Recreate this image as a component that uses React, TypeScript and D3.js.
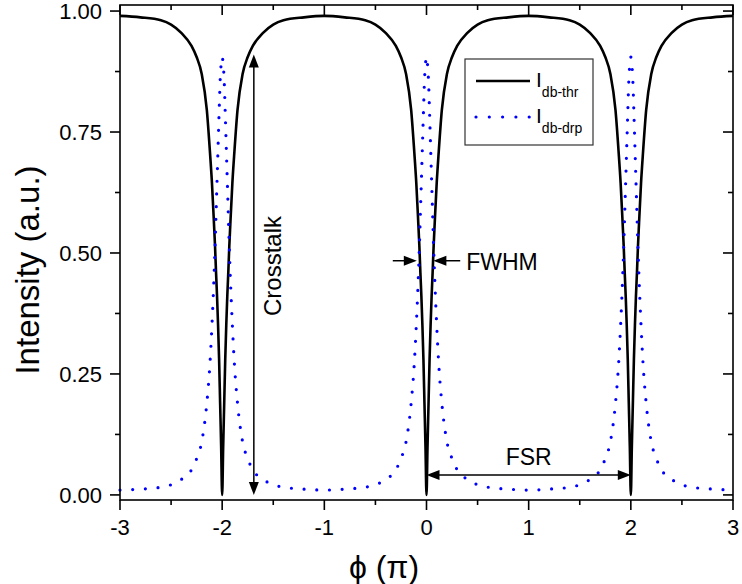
import React from 'react';
import * as d3 from 'd3';

// phase (units of pi)
const phi = [
  -3,
  -2.8, -2.6, -2.5, -2.4, -2.3, -2.25, -2.2, -2.15, -2.12, -2.1, -2.08, -2.07, -2.06, -2.05, -2.04, -2.03, -2.02, -2.01,
  -2,
  -1.99, -1.98, -1.97, -1.96, -1.95, -1.94, -1.93, -1.92, -1.9, -1.88, -1.85, -1.8, -1.75, -1.7, -1.6, -1.5, -1.4, -1.2,
  -1,
  -0.8, -0.6, -0.5, -0.4, -0.3, -0.25, -0.2, -0.15, -0.12, -0.1, -0.08, -0.07, -0.06, -0.05, -0.04, -0.03, -0.02, -0.01,
  0,
  0.01, 0.02, 0.03, 0.04, 0.05, 0.06, 0.07, 0.08, 0.1, 0.12, 0.15, 0.2, 0.25, 0.3, 0.4, 0.5, 0.6, 0.8,
  1,
  1.2, 1.4, 1.5, 1.6, 1.7, 1.75, 1.8, 1.85, 1.88, 1.9, 1.92, 1.93, 1.94, 1.95, 1.96, 1.97, 1.98, 1.99,
  2,
  2.01, 2.02, 2.03, 2.04, 2.05, 2.06, 2.07, 2.08, 2.1, 2.12, 2.15, 2.2, 2.25, 2.3, 2.4, 2.5, 2.6, 2.8,
  3,
];

// I db-thr (through port)
const thruValues = [
  0.990,
  0.987, 0.981, 0.972, 0.955, 0.928, 0.905, 0.870, 0.795, 0.710, 0.645, 0.560, 0.515, 0.460, 0.410, 0.350, 0.280, 0.190, 0.100,
  0.000,
  0.100, 0.190, 0.280, 0.350, 0.410, 0.460, 0.515, 0.560, 0.645, 0.710, 0.795, 0.870, 0.905, 0.928, 0.955, 0.972, 0.981, 0.987,
  0.990,
  0.987, 0.981, 0.972, 0.955, 0.928, 0.905, 0.870, 0.795, 0.710, 0.645, 0.560, 0.515, 0.460, 0.410, 0.350, 0.280, 0.190, 0.100,
  0.000,
  0.100, 0.190, 0.280, 0.350, 0.410, 0.460, 0.515, 0.560, 0.645, 0.710, 0.795, 0.870, 0.905, 0.928, 0.955, 0.972, 0.981, 0.987,
  0.990,
  0.987, 0.981, 0.972, 0.955, 0.928, 0.905, 0.870, 0.795, 0.710, 0.645, 0.560, 0.515, 0.460, 0.410, 0.350, 0.280, 0.190, 0.100,
  0.000,
  0.100, 0.190, 0.280, 0.350, 0.410, 0.460, 0.515, 0.560, 0.645, 0.710, 0.795, 0.870, 0.905, 0.928, 0.955, 0.972, 0.981, 0.987,
  0.990,
];

// I db-drp (drop port)
const dropValues = [
  0.010,
  0.012, 0.016, 0.021, 0.032, 0.052, 0.075, 0.110, 0.190, 0.270, 0.350, 0.450, 0.510, 0.580, 0.650, 0.720, 0.790, 0.855, 0.890,
  0.905,
  0.890, 0.855, 0.790, 0.720, 0.650, 0.580, 0.510, 0.450, 0.350, 0.270, 0.190, 0.110, 0.075, 0.052, 0.032, 0.021, 0.016, 0.012,
  0.010,
  0.012, 0.016, 0.021, 0.032, 0.052, 0.075, 0.110, 0.190, 0.270, 0.350, 0.450, 0.510, 0.580, 0.650, 0.720, 0.790, 0.855, 0.890,
  0.905,
  0.890, 0.855, 0.790, 0.720, 0.650, 0.580, 0.510, 0.450, 0.350, 0.270, 0.190, 0.110, 0.075, 0.052, 0.032, 0.021, 0.016, 0.012,
  0.010,
  0.012, 0.016, 0.021, 0.032, 0.052, 0.075, 0.110, 0.190, 0.270, 0.350, 0.450, 0.510, 0.580, 0.650, 0.720, 0.790, 0.855, 0.890,
  0.905,
  0.890, 0.855, 0.790, 0.720, 0.650, 0.580, 0.510, 0.450, 0.350, 0.270, 0.190, 0.110, 0.075, 0.052, 0.032, 0.021, 0.016, 0.012,
  0.010,
];

const xTicks = [-3, -2, -1, 0, 1, 2, 3];
const xMinorTicks = [-2.5, -1.5, -0.5, 0.5, 1.5, 2.5];
const yTicks = [0, 0.25, 0.5, 0.75, 1];
const yTickLabels = ['0.00', '0.25', '0.50', '0.75', '1.00'];
const yMinorTicks = [0.125, 0.375, 0.625, 0.875];

// annotations (data coords)
const crosstalk = { x: -1.69, top: 0.91, bottom: 0.0 };
const fwhm = { y: 0.484, leftTip: -0.095, leftTail: -0.33, rightTip: 0.067, rightTail: 0.33 };
const fsr = { y: 0.041, from: 0, to: 2 };

const W = 742;
const H = 584;
const plot = { left: 120, right: 733, top: 5, bottom: 500 };
const FONT = '"Liberation Sans", Arial, Helvetica, sans-serif';

// triangle head: tip at (tx,ty), pointing along (dx,dy)
function head(tx: number, ty: number, dx: number, dy: number, len = 13, half = 5) {
  const bx = tx - dx * len;
  const by = ty - dy * len;
  const px = -dy * half;
  const py = dx * half;
  return `${tx},${ty} ${bx + px},${by + py} ${bx - px},${by - py}`;
}

export default function App() {
  const x = d3.scaleLinear().domain([-3, 3]).range([plot.left, plot.right]);
  const y = d3.scaleLinear().domain([-0.0105, 1.0125]).range([plot.bottom, plot.top]);

  const line = d3
    .line<number>()
    .x((_, i) => x(phi[i]))
    .y((d) => y(d))
    .curve(d3.curveMonotoneX);

  const cx = x(crosstalk.x);
  const cTop = y(crosstalk.top);
  const cBot = y(crosstalk.bottom);
  const fy = y(fwhm.y);
  const sy = y(fsr.y);

  return (
    <svg width={W} height={H} style={{ position: 'absolute', left: 0, top: 0, background: '#fff' }} fontFamily={FONT}>
      {/* curves */}
      <path d={line(thruValues) || ''} fill="none" stroke="#000" strokeWidth={2.6} />
      <path
        d={line(dropValues) || ''}
        fill="none"
        stroke="#0000ff"
        strokeWidth={3.2}
        strokeLinecap="round"
        strokeDasharray="0 12.7"
      />

      {/* frame */}
      <rect
        x={plot.left}
        y={plot.top}
        width={plot.right - plot.left}
        height={plot.bottom - plot.top}
        fill="none"
        stroke="#000"
        strokeWidth={1.6}
      />

      {/* x ticks */}
      {xTicks.map((t) => (
        <g key={'x' + t}>
          <line x1={x(t)} x2={x(t)} y1={plot.bottom} y2={plot.bottom + 10} stroke="#000" strokeWidth={1.6} />
          <line x1={x(t)} x2={x(t)} y1={plot.top} y2={plot.top + 10} stroke="#000" strokeWidth={1.6} />
          <text x={x(t)} y={535} fontSize={22} textAnchor="middle">
            {t}
          </text>
        </g>
      ))}
      {xMinorTicks.map((t) => (
        <g key={'xm' + t}>
          <line x1={x(t)} x2={x(t)} y1={plot.bottom} y2={plot.bottom + 5} stroke="#000" strokeWidth={1.6} />
          <line x1={x(t)} x2={x(t)} y1={plot.top} y2={plot.top + 5} stroke="#000" strokeWidth={1.6} />
        </g>
      ))}

      {/* y ticks */}
      {yTicks.map((t, i) => (
        <g key={'y' + t}>
          <line x1={plot.left - 10} x2={plot.left} y1={y(t)} y2={y(t)} stroke="#000" strokeWidth={1.6} />
          <line x1={plot.right - 10} x2={plot.right} y1={y(t)} y2={y(t)} stroke="#000" strokeWidth={1.6} />
          <text x={102} y={y(t) + 8} fontSize={22} textAnchor="end">
            {yTickLabels[i]}
          </text>
        </g>
      ))}
      {yMinorTicks.map((t) => (
        <g key={'ym' + t}>
          <line x1={plot.left - 5} x2={plot.left} y1={y(t)} y2={y(t)} stroke="#000" strokeWidth={1.6} />
          <line x1={plot.right - 5} x2={plot.right} y1={y(t)} y2={y(t)} stroke="#000" strokeWidth={1.6} />
        </g>
      ))}

      {/* axis titles */}
      <text transform="translate(39,270) rotate(-90)" fontSize={33} textAnchor="middle">
        Intensity (a.u.)
      </text>
      <text x={384} y={578} fontSize={32} textAnchor="middle">
        ϕ (π)
      </text>

      {/* crosstalk arrow */}
      <line x1={cx} x2={cx} y1={cTop + 12} y2={cBot - 12} stroke="#000" strokeWidth={1.5} />
      <polygon points={head(cx, cTop, 0, -1)} fill="#000" />
      <polygon points={head(cx, cBot, 0, 1)} fill="#000" />
      <text transform="translate(281,266) rotate(-90)" fontSize={24} textAnchor="middle">
        Crosstalk
      </text>

      {/* FWHM arrows */}
      <line x1={x(fwhm.leftTail)} x2={x(fwhm.leftTip) - 12} y1={fy} y2={fy} stroke="#000" strokeWidth={1.5} />
      <polygon points={head(x(fwhm.leftTip), fy, 1, 0)} fill="#000" />
      <line x1={x(fwhm.rightTail)} x2={x(fwhm.rightTip) + 12} y1={fy} y2={fy} stroke="#000" strokeWidth={1.5} />
      <polygon points={head(x(fwhm.rightTip), fy, -1, 0)} fill="#000" />
      <text x={x(fwhm.rightTail) + 6} y={fy + 9} fontSize={23}>
        FWHM
      </text>

      {/* FSR arrow */}
      <line x1={x(fsr.from) + 12} x2={x(fsr.to) - 12} y1={sy} y2={sy} stroke="#000" strokeWidth={1.5} />
      <polygon points={head(x(fsr.from), sy, -1, 0)} fill="#000" />
      <polygon points={head(x(fsr.to), sy, 1, 0)} fill="#000" />
      <text x={x((fsr.from + fsr.to) / 2)} y={sy - 10} fontSize={23} textAnchor="middle">
        FSR
      </text>

      {/* legend */}
      <rect x={465} y={59} width={128} height={86} fill="#fff" stroke="#333" strokeWidth={1.2} />
      <line x1={476} x2={530} y1={81} y2={81} stroke="#000" strokeWidth={2.6} />
      <text x={536} y={87} fontSize={21}>
        I<tspan fontSize={14} dy={10}>db-thr</tspan>
      </text>
      <line
        x1={476}
        x2={530}
        y1={117}
        y2={117}
        stroke="#0000ff"
        strokeWidth={3.2}
        strokeLinecap="round"
        strokeDasharray="0 13.3"
      />
      <text x={536} y={123} fontSize={21}>
        I<tspan fontSize={14} dy={10}>db-drp</tspan>
      </text>
    </svg>
  );
}
